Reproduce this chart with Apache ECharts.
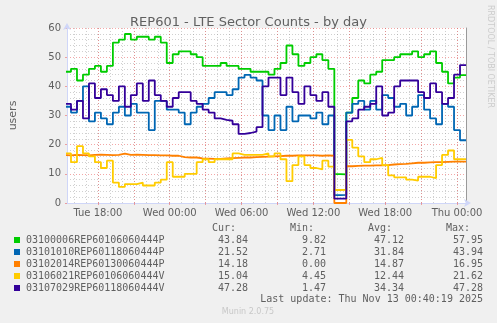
<!DOCTYPE html>
<html>
<head>
    <meta charset="utf-8">
    <script src="https://cdn.jsdelivr.net/npm/echarts@6/dist/echarts.min.js"></script>
</head>
<body style="margin: 0; background: #f0f0f0">
<div id="container" style="width: 497px; height: 323px"></div>

<script type="text/javascript">
    // x values are hours since Tue 00:00, one sample every 30 minutes
    var startHour = 15.25;
    var stepHours = 0.5;
    var axisMin = 15 + 25 / 60;
    var axisMax = 48.75;

    var seriesNames = [
        '03100006REP60106060444P',
        '03101010REP60118060444P',
        '03102014REP60130060444P',
        '03106021REP60106060444V',
        '03107029REP60118060444V'
    ];
    var seriesColors = ['#00cc00', '#0066b3', '#ff8000', '#ffcc00', '#330099'];

    var green = [48, 45, 46, 42, 44, 46, 47, 45, 47, 55, 56, 57.95, 56, 57,
        57, 56, 57, 55, 48, 51, 52, 52, 51, 50, 47, 47, 47,
        48, 47, 47, 46, 46, 45, 45, 45, 44, 46, 48, 54, 51, 47,
        48, 50, 51, 49, 46, 9.9, 9.82, 31, 36, 42, 41, 44, 45, 49,
        49, 50, 51, 51, 52, 50, 51, 52, 48, 45, 41, 43, 43.84];
    var blue = [36, 33, 31, 35, 40, 28, 31, 29, 27, 31, 33, 30, 34, 31,
        31, 25, 35, 35, 32, 32, 31, 27, 31, 33, 34, 36, 38,
        38, 37, 39, 43, 43.94, 43, 42, 30, 25, 30, 25, 33, 28, 30,
        30, 29, 31, 27, 30, 2.71, 2.8, 31, 34, 35, 32, 35, 32, 37,
        36, 33, 34, 30, 33, 37, 32, 29, 27, 34, 33, 25, 21.52];
    var orange = [16.4, 16.3, 16.5, 16.4, 16.3, 16.5, 16.6, 16.5, 16.4, 16.5, 16.95, 16.5, 16.6, 16.5,
        16.4, 16.4, 16.3, 16.3, 16.2, 16.2, 15.7, 15.6, 15.6, 15.3, 15.2, 15.1, 15.1,
        15.3, 15.4, 15.5, 15.6, 15.6, 15.7, 15.8, 15.9, 16.0, 16.1, 16.2, 16.2, 16.3, 16.3,
        16.3, 16.3, 16.2, 16.3, 16.2, 0, 0, 12.6, 12.7, 12.8, 12.8, 12.9, 12.9, 13.0,
        13.2, 13.3, 13.4, 13.6, 13.8, 13.8, 13.9, 14.0, 14.0, 14.1, 14.2, 14.2, 14.18];
    var yellow = [13, 17, 14, 19.5, 17, 16, 14, 12, 14.5, 7, 5.5, 6.5, 6.5, 7,
        6, 6, 7, 8, 14, 9, 9, 10, 10, 14, 15, 14, 15,
        15, 15, 17, 16.5, 16.5, 16.5, 16.5, 17, 16, 17, 15, 7.5, 13, 16,
        13, 12, 11.5, 14.5, 12.5, 4.45, 4.5, 21.62, 19, 16, 14, 15, 15.5, 13,
        9.5, 8.8, 8.8, 8, 7.7, 9, 9, 8.5, 13, 16.5, 18, 15, 15.04];
    var purple = [32, 34, 32, 35, 29, 41, 36, 39, 37, 35, 40, 33, 37, 41,
        35, 42, 37, 35, 33, 36, 38, 38, 35, 34, 32, 31, 29,
        28.5, 28.2, 27, 23.7, 24, 24.5, 26, 40, 43, 43, 37, 43, 38, 34,
        40, 37, 35, 38, 33, 1.47, 1.5, 28, 29, 32, 33, 34, 40, 30,
        31, 40, 42, 42, 42, 38, 36, 41, 38, 34, 36, 44, 47.28];
    var seriesValues = [green, blue, orange, yellow, purple];

    var curValues = ['43.84', '21.52', '14.18', '15.04', '47.28'];
    var minValues = ['9.82', '2.71', '0.00', '4.45', '1.47'];
    var avgValues = ['47.12', '31.84', '14.87', '12.44', '34.34'];
    var maxValues = ['57.95', '43.94', '16.95', '21.62', '47.28'];

    var labelTicks = [18, 24, 30, 36, 42, 48];
    var majorTicks = [18, 21, 24, 27, 30, 33, 36, 39, 42, 45, 48];
    var hourTicks = [];
    for (var h = 16; h <= 48; h++) hourTicks.push(h);

    var dayNames = ['Tue', 'Wed', 'Thu'];
    function hourLabel(v) {
        var hh = v % 24;
        return dayNames[Math.floor(v / 24)] + ' ' + (hh < 10 ? '0' : '') + hh + ':00';
    }

    var fontColor = '#606060';
    var axisColor = '#cfd6f8';
    var mgrid = 'rgba(233,95,95,0.55)';
    var grid = 'rgba(150,150,150,0.45)';

    var series = seriesValues.map(function (vals, k) {
        return {
            name: seriesNames[k],
            type: 'line',
            step: 'start',
            symbol: 'none',
            animation: false,
            lineStyle: {width: 1.8, color: seriesColors[k]},
            itemStyle: {color: seriesColors[k]},
            data: vals.map(function (v, i) {
                return [startHour + i * stepHours, v];
            })
        };
    });

    // legend table drawn as text
    var mono = 'DejaVu Sans Mono';
    var graphic = [];
    var headers = ['Cur:', 'Min:', 'Avg:', 'Max:'];
    var headerX = [236, 314, 392, 470];
    var colX = [248, 326, 404, 483];
    headers.forEach(function (t, c) {
        graphic.push({type: 'text', x: headerX[c], y: 228,
            style: {text: t, align: 'right', verticalAlign: 'middle', font: '10px "' + mono + '"', fill: fontColor}});
    });
    seriesNames.forEach(function (name, k) {
        var y = 240 + k * 12;
        graphic.push({type: 'rect', shape: {x: 14, y: y - 3, width: 6, height: 6}, style: {fill: seriesColors[k]}});
        graphic.push({type: 'text', x: 26, y: y,
            style: {text: name, verticalAlign: 'middle', font: '10px "' + mono + '"', fill: fontColor}});
        [curValues, minValues, avgValues, maxValues].forEach(function (arr, c) {
            graphic.push({type: 'text', x: colX[c], y: y,
                style: {text: arr[k], align: 'right', verticalAlign: 'middle', font: '10px "' + mono + '"', fill: fontColor}});
        });
    });
    graphic.push({type: 'text', x: 483, y: 299,
        style: {text: 'Last update: Thu Nov 13 00:40:19 2025', align: 'right', verticalAlign: 'middle',
            font: '10px "' + mono + '"', fill: fontColor}});
    graphic.push({type: 'text', x: 248, y: 312,
        style: {text: 'Munin 2.0.75', align: 'center', verticalAlign: 'middle',
            font: '8px "DejaVu Sans"', fill: '#c8c8c8'}});
    graphic.push({type: 'text', x: 490, y: 5, rotation: -Math.PI / 2,
        style: {text: 'RRDTOOL / TOBI OETIKER', align: 'left', verticalAlign: 'middle',
            font: '8px "DejaVu Sans"', fill: '#cccccc'}});

    var myChart = echarts.init(document.getElementById('container'));
    var option = {
        backgroundColor: '#f0f0f0',
        animation: false,
        title: {
            text: 'REP601 - LTE Sector Counts - by day',
            left: 'center',
            top: 11,
            textStyle: {fontSize: 13, fontWeight: 'normal', color: fontColor, fontFamily: 'DejaVu Sans'}
        },
        grid: {left: 66, right: 31, top: 28, bottom: 120, show: true, backgroundColor: '#ffffff', borderWidth: 0},
        xAxis: [{
            type: 'value',
            min: axisMin,
            max: axisMax,
            z: 2,
            axisLine: {lineStyle: {color: axisColor}, symbol: ['none', 'arrow'], symbolSize: [6, 7], symbolOffset: [0, 5]},
            axisTick: {customValues: majorTicks, length: 2, lineStyle: {color: mgrid}},
            axisLabel: {customValues: labelTicks, formatter: hourLabel, margin: 5, fontSize: 10,
                color: fontColor, fontFamily: 'DejaVu Sans'},
            splitLine: {show: true, lineStyle: {color: mgrid, type: [1, 2]}}
        }, {
            type: 'value',
            min: axisMin,
            max: axisMax,
            position: 'top',
            z: 1,
            axisLine: {show: false},
            axisTick: {show: false, customValues: hourTicks},
            axisLabel: {show: false},
            splitLine: {show: true, lineStyle: {color: grid, type: [1, 2]}}
        }],
        yAxis: [{
            type: 'value',
            min: 0,
            max: 60,
            interval: 10,
            name: 'users',
            nameLocation: 'middle',
            nameGap: 48,
            nameTextStyle: {fontSize: 11, color: fontColor, fontFamily: 'DejaVu Sans'},
            z: 2,
            axisLine: {show: true, lineStyle: {color: axisColor}, symbol: ['none', 'arrow'], symbolSize: [6, 7], symbolOffset: [0, 5]},
            axisTick: {show: true, length: 2, lineStyle: {color: mgrid}},
            axisLabel: {fontSize: 10, color: fontColor, fontFamily: 'DejaVu Sans', margin: 6},
            splitLine: {lineStyle: {color: mgrid, type: [1, 2]}},
            minorTick: {show: false, splitNumber: 5},
            minorSplitLine: {show: true, lineStyle: {color: grid, type: [1, 2]}}
        }, {
            type: 'value',
            min: 0,
            max: 60,
            position: 'right',
            axisLine: {show: true, lineStyle: {color: '#9a9a9a'}},
            axisTick: {show: false},
            axisLabel: {show: false},
            splitLine: {show: false}
        }],
        graphic: graphic,
        series: series
    };
    myChart.setOption(option, true);
</script>
</body>
</html>
